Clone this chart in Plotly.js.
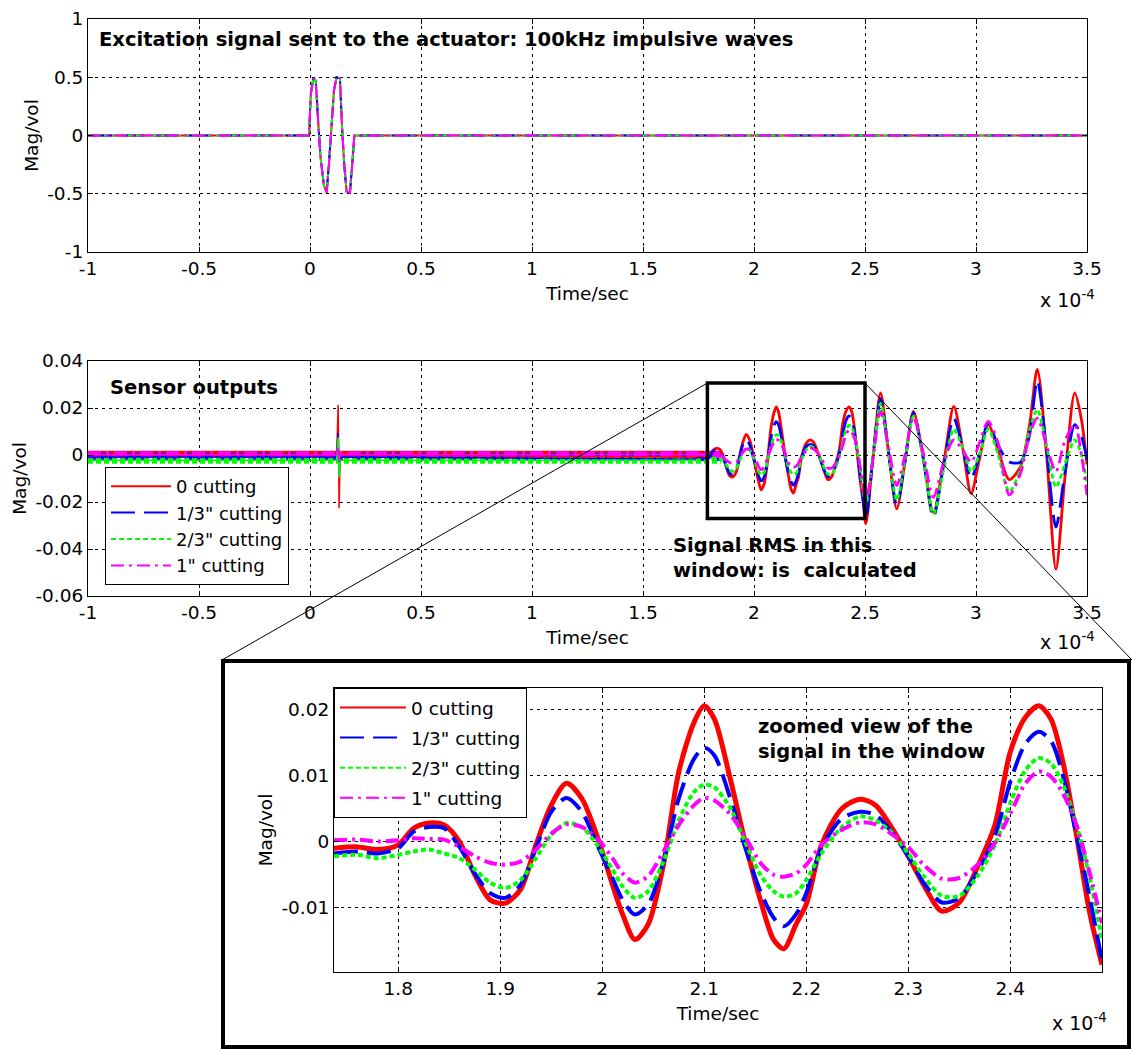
<!DOCTYPE html>
<html>
<head>
<meta charset="utf-8">
<script src="https://cdn.plot.ly/plotly-3.0.1.min.js"></script>
<style>
html,body{margin:0;padding:0;background:#ffffff;}
#chart{width:1132px;height:1049px;}
</style>
</head>
<body>
<div id="chart"></div>
<script>
// ---------------- DATA (time in units of 1e-4 s, magnitude in volts) ----------------
const seriesNames = ['0 cutting', '1/3" cutting', '2/3" cutting', '1" cutting'];

// Excitation burst (same for all four tests)
const excitationTime = [-1, -0.004, 0, 0.004, 0.015, 0.026, 0.0375, 0.048, 0.063, 0.075, 0.087, 0.0975, 0.108, 0.12, 0.135, 0.144, 0.1545, 0.165, 0.18, 0.192, 0.2, 3.5];
const excitationMag  = [0, 0, 0.2, 0.36, 0.49, 0.47, 0.1, -0.2, -0.43, -0.49, -0.2, 0.135, 0.39, 0.5, 0.49, 0.08, -0.26, -0.48, -0.49, -0.2, 0, 0];

// Sensor noise floor (level of the noisy band before the wave arrives)
const bandTime    = [-1, 1.85];
const bandRed     = [0.0003, 0.0003];
const bandBlue    = [-0.0008, -0.0008];
const bandGreen   = [-0.0022, -0.0022];
const bandMagenta = [0.0001, 0.0001];

// Early part with the cross-talk spike
const earlyTime    = [-1, 0.12, 0.127, 0.131, 0.136, 1.737];
const earlyRed     = [0.0, 0.0, 0.0213, -0.0226, 0.0, -0.001];
const earlyBlue    = [-0.0008, -0.0008, 0.0094, -0.008, -0.0008, -0.0018];
const earlyGreen   = [-0.0022, -0.0022, 0.0075, -0.0095, -0.0022, -0.0022];
const earlyMagenta = [0.0001, 0.0001, 0.003, -0.003, 0.0001, 0.0002];

// RMS window (also shown in the zoomed view)
const windowTime = [1.737, 1.76, 1.78, 1.80, 1.815, 1.83, 1.845, 1.86, 1.875, 1.89, 1.905, 1.92, 1.935, 1.95, 1.965, 1.98, 1.995, 2.01, 2.02, 2.032, 2.045, 2.06, 2.075, 2.09, 2.1, 2.11, 2.125, 2.14, 2.155, 2.168, 2.178, 2.19, 2.2, 2.215, 2.235, 2.253, 2.268, 2.285, 2.3, 2.315, 2.333, 2.35, 2.368, 2.385, 2.4, 2.415, 2.428, 2.44, 2.452, 2.465, 2.478, 2.49];
const windowRed = [-0.001, -0.0008, -0.0012, -0.0005, 0.002, 0.0028, 0.0025, 0.0, -0.005, -0.0088, -0.0093, -0.0072, -0.0005, 0.0055, 0.0088, 0.0065, 0.0008, -0.0065, -0.011, -0.0148, -0.0125, -0.0035, 0.0105, 0.018, 0.0205, 0.0185, 0.0098, 0.0, -0.0088, -0.0148, -0.0162, -0.0125, -0.0095, -0.0005, 0.005, 0.0064, 0.0055, 0.0018, -0.0022, -0.0065, -0.0105, -0.0092, -0.0038, 0.0025, 0.0135, 0.0188, 0.0205, 0.0185, 0.0118, 0.001, -0.0108, -0.0186];
const windowBlue = [-0.0018, -0.0015, -0.0018, -0.001, 0.0015, 0.0022, 0.002, -0.0008, -0.0048, -0.0078, -0.0085, -0.0065, -0.001, 0.0045, 0.0066, 0.0045, -0.0005, -0.0055, -0.0088, -0.011, -0.0095, -0.003, 0.0065, 0.0125, 0.0142, 0.013, 0.0068, -0.0008, -0.0075, -0.0115, -0.0128, -0.011, -0.0078, -0.001, 0.0035, 0.0045, 0.004, 0.0012, -0.0022, -0.0062, -0.0092, -0.0085, -0.0045, 0.0008, 0.009, 0.0148, 0.0166, 0.0152, 0.0098, 0.001, -0.0085, -0.018];
const windowGreen = [-0.0022, -0.002, -0.0025, -0.002, -0.0015, -0.0012, -0.0018, -0.0025, -0.0042, -0.0062, -0.007, -0.0058, -0.0025, 0.001, 0.0028, 0.0022, -0.0005, -0.0042, -0.0068, -0.0085, -0.0075, -0.003, 0.0032, 0.0075, 0.0086, 0.0082, 0.0052, 0.0, -0.005, -0.0075, -0.0083, -0.0078, -0.0058, -0.0018, 0.0022, 0.0038, 0.0032, 0.0012, -0.0018, -0.0052, -0.0082, -0.0082, -0.0052, -0.0005, 0.0058, 0.0108, 0.0126, 0.0118, 0.0085, 0.0025, -0.0055, -0.0148];
const windowMagenta = [0.0002, 0.0003, 0.0, 0.0002, 0.0005, 0.0004, 0.0003, -0.0008, -0.0022, -0.0032, -0.0035, -0.003, -0.0012, 0.0012, 0.0026, 0.0022, 0.0005, -0.0025, -0.0048, -0.0062, -0.0052, -0.0015, 0.0025, 0.0055, 0.0066, 0.0062, 0.0042, 0.0008, -0.0032, -0.005, -0.0053, -0.0048, -0.0035, -0.0005, 0.0018, 0.0029, 0.0026, 0.001, -0.0008, -0.0035, -0.0056, -0.0055, -0.0035, -0.0002, 0.0042, 0.0088, 0.0106, 0.0098, 0.0072, 0.0025, -0.0048, -0.0123];

// After the window
const lateTime    = [2.504, 2.537, 2.57, 2.605, 2.643, 2.68, 2.718, 2.76, 2.808, 2.855, 2.9, 2.94, 2.978, 3.015, 3.055, 3.1, 3.15, 3.2, 3.24, 3.276, 3.318, 3.36, 3.4, 3.445, 3.475, 3.5];
const lateRed     = [-0.0293, 0.0, 0.0264, 0.002, -0.0229, -0.003, 0.0186, 0.0, -0.0245, -0.003, 0.0207, 0.003, -0.0164, -0.002, 0.0129, 0.002, -0.0105, -0.005, 0.012, 0.0364, 0.0, -0.0486, -0.01, 0.0264, 0.015, -0.004];
const lateBlue    = [-0.027, 0.0, 0.024, 0.002, -0.0214, -0.003, 0.018, 0.0, -0.0264, -0.004, 0.0157, 0.003, -0.01, 0.0, 0.0136, 0.004, -0.003, -0.003, 0.008, 0.0317, 0.002, -0.0307, -0.008, 0.0129, 0.008, -0.002];
const lateGreen   = [-0.021, 0.0, 0.022, 0.002, -0.0193, -0.002, 0.0164, 0.0, -0.025, -0.006, 0.011, 0.003, -0.007, 0.0, 0.011, 0.0, -0.0157, -0.006, 0.01, 0.0193, 0.004, -0.0136, -0.004, 0.0064, 0.0, -0.012];
const lateMagenta = [-0.02, -0.001, 0.0186, 0.004, -0.013, 0.0, 0.016, 0.002, -0.018, -0.003, 0.0064, 0.002, -0.003, 0.005, 0.0143, 0.005, -0.017, -0.008, 0.008, 0.0157, 0.004, -0.0071, 0.006, 0.0129, 0.0, -0.0171];

// RMS window rectangle
const rmsWindowTime = [1.79, 2.5];
const rmsWindowMag  = [-0.027, 0.0306];

// Ticks
const timeTicks       = [-1, -0.5, 0, 0.5, 1, 1.5, 2, 2.5, 3, 3.5];
const timeTickLabels  = ['-1', '-0.5', '0', '0.5', '1', '1.5', '2', '2.5', '3', '3.5'];
const excTicks        = [-1, -0.5, 0, 0.5, 1];
const excTickLabels   = ['-1', '-0.5', '0', '0.5', '1'];
const sensTicks       = [-0.06, -0.04, -0.02, 0, 0.02, 0.04];
const sensTickLabels  = ['-0.06', '-0.04', '-0.02', '0', '0.02', '0.04'];
const zoomTimeTicks   = [1.8, 1.9, 2.0, 2.1, 2.2, 2.3, 2.4];
const zoomTimeLabels  = ['1.8', '1.9', '2', '2.1', '2.2', '2.3', '2.4'];
const zoomMagTicks    = [-0.01, 0, 0.01, 0.02];
const zoomMagLabels   = ['-0.01', '0', '0.01', '0.02'];

// ---------------- STYLE / LAYOUT ----------------
const W = 1132, H = 1049;
const FONT = '"DejaVu Sans", Verdana, sans-serif';
const colors = ['#ff0000', '#0000ff', '#00ff00', '#ff00ff'];
const dashes = ['solid', '24px,9px', '5px,3px', '13px,5px,3px,5px'];

// subplot boxes in pixels [left, right, top, bottom]
const boxTop = [88, 1087, 19, 252];
const boxMid = [88, 1087, 361, 596];
const boxZoom = [334, 1102, 688, 972];
const frame = [223, 1129, 661, 1047];

const px = v => v / W;
const py = v => 1 - v / H;

const band = [bandRed, bandBlue, bandGreen, bandMagenta];
const early = [earlyRed, earlyBlue, earlyGreen, earlyMagenta];
const win = [windowRed, windowBlue, windowGreen, windowMagenta];
const late = [lateRed, lateBlue, lateGreen, lateMagenta];
const bandWidths = [7, 8, 7, 7];
const idx = [0, 1, 2, 3];

const data = [];
// top: excitation
idx.forEach(i => {
  data.push({x: excitationTime, y: excitationMag, xaxis: 'x', yaxis: 'y', mode: 'lines',
    line: {color: colors[i], width: 2, dash: dashes[i]}, showlegend: false, hoverinfo: 'skip'});
});
// middle: noise band
idx.forEach(i => {
  data.push({x: bandTime, y: band[i], xaxis: 'x2', yaxis: 'y2', mode: 'lines',
    line: {color: colors[i], width: bandWidths[i], dash: dashes[i]}, showlegend: false, hoverinfo: 'skip'});
});
// middle: early + spike
idx.forEach(i => {
  data.push({x: earlyTime, y: early[i], xaxis: 'x2', yaxis: 'y2', mode: 'lines',
    line: {color: colors[i], width: 1.5}, showlegend: false, hoverinfo: 'skip'});
});
// middle: window + late waves
idx.forEach(i => {
  data.push({x: windowTime.concat(lateTime), y: win[i].concat(late[i]), xaxis: 'x2', yaxis: 'y2', mode: 'lines',
    line: {color: colors[i], width: 2.8, dash: dashes[i], shape: 'spline', smoothing: 0.8}, showlegend: false, hoverinfo: 'skip'});
});
// zoomed view
idx.forEach(i => {
  data.push({x: windowTime, y: win[i], xaxis: 'x3', yaxis: 'y3', mode: 'lines',
    line: {color: colors[i], width: i === 0 ? 5 : 4, dash: dashes[i], shape: 'spline', smoothing: 0.8}, showlegend: false, hoverinfo: 'skip'});
});
// legend entries
idx.forEach(i => {
  data.push({x: [null], y: [null], xaxis: 'x2', yaxis: 'y2', mode: 'lines', name: seriesNames[i],
    line: {color: colors[i], width: 2, dash: dashes[i]}, legend: 'legend', hoverinfo: 'skip'});
});
idx.forEach(i => {
  data.push({x: [null], y: [null], xaxis: 'x3', yaxis: 'y3', mode: 'lines', name: seriesNames[i],
    line: {color: colors[i], width: 2, dash: dashes[i]}, legend: 'legend2', legendgroup: 'z' + i, hoverinfo: 'skip'});
});

function axisBase() {
  return {showline: true, linecolor: '#000', linewidth: 1, mirror: 'ticks', ticks: 'inside', ticklen: 5,
    tickcolor: '#000', showgrid: true, gridcolor: '#000', gridwidth: 1, griddash: '3px,4px', zeroline: false,
    tickfont: {family: FONT, size: 18.5, color: '#000'}, tickmode: 'array', fixedrange: true};
}
function xAxis(box, range, vals, labels, anchor) {
  return Object.assign(axisBase(), {domain: [px(box[0]), px(box[1])], range: range, tickvals: vals, ticktext: labels,
    anchor: anchor, title: {text: 'Time/sec', font: {family: FONT, size: 18.5, color: '#000'}, standoff: 8}});
}
function yAxis(box, range, vals, labels, anchor) {
  return Object.assign(axisBase(), {domain: [py(box[3]), py(box[2])], range: range, tickvals: vals, ticktext: labels,
    anchor: anchor, title: {text: 'Mag/vol', font: {family: FONT, size: 18.5, color: '#000'}, standoff: 3}});
}

const midX = t => boxMid[0] + (t - (-1)) / 4.5 * (boxMid[1] - boxMid[0]);
const midY = v => boxMid[3] - (v - (-0.06)) / 0.1 * (boxMid[3] - boxMid[2]);

const bold = (t, x, y) => ({text: t, x: px(x), y: py(y), xref: 'paper', yref: 'paper', xanchor: 'left', yanchor: 'middle',
  align: 'left', showarrow: false, font: {family: FONT, size: 19.5, color: '#000', weight: 'bold'}});
const expo = (x, y) => ({text: 'x 10<sup>-4</sup>', x: px(x), y: py(y), xref: 'paper', yref: 'paper', xanchor: 'left', yanchor: 'middle',
  showarrow: false, font: {family: FONT, size: 19, color: '#000'}});

const layout = {
  width: W, height: H, margin: {l: 0, r: 0, t: 0, b: 0},
  paper_bgcolor: '#fff', plot_bgcolor: '#fff', hovermode: false,
  font: {family: FONT, color: '#000'},
  xaxis: xAxis(boxTop, [-1, 3.5], timeTicks, timeTickLabels, 'y'),
  yaxis: yAxis(boxTop, [-1, 1], excTicks, excTickLabels, 'x'),
  xaxis2: xAxis(boxMid, [-1, 3.5], timeTicks, timeTickLabels, 'y2'),
  yaxis2: yAxis(boxMid, [-0.06, 0.04], sensTicks, sensTickLabels, 'x2'),
  xaxis3: xAxis(boxZoom, [1.737, 2.49], zoomTimeTicks, zoomTimeLabels, 'y3'),
  yaxis3: yAxis(boxZoom, [-0.0197, 0.0232], zoomMagTicks, zoomMagLabels, 'x3'),
  legend: {x: px(105), y: py(467), xanchor: 'left', yanchor: 'top', bgcolor: '#fff', bordercolor: '#000', borderwidth: 1,
    font: {family: FONT, size: 18, color: '#000'}, itemwidth: 60, tracegroupgap: 0},
  legend2: {x: px(334), y: py(688), xanchor: 'left', yanchor: 'top', bgcolor: '#fff', bordercolor: '#000', borderwidth: 1,
    font: {family: FONT, size: 18.5, color: '#000'}, itemwidth: 66, tracegroupgap: 3, traceorder: 'grouped'},
  shapes: [
    {type: 'rect', xref: 'x2', yref: 'y2', x0: rmsWindowTime[0], x1: rmsWindowTime[1], y0: rmsWindowMag[0], y1: rmsWindowMag[1],
      line: {color: '#000', width: 3.5}},
    {type: 'rect', xref: 'paper', yref: 'paper', x0: px(frame[0]), x1: px(frame[1]), y0: py(frame[3]), y1: py(frame[2]),
      line: {color: '#000', width: 4}},
    {type: 'line', xref: 'paper', yref: 'paper', x0: px(midX(rmsWindowTime[0])), y0: py(midY(rmsWindowMag[1])),
      x1: px(frame[0] - 1), y1: py(frame[2] - 1), line: {color: '#000', width: 1}},
    {type: 'line', xref: 'paper', yref: 'paper', x0: px(midX(rmsWindowTime[1])), y0: py(midY(rmsWindowMag[1])),
      x1: px(frame[1] + 3), y1: py(frame[2] - 1), line: {color: '#000', width: 1}}
  ],
  annotations: [
    bold('Excitation signal sent to the actuator: 100kHz impulsive waves', 97, 40),
    bold('Sensor outputs', 108, 387),
    bold('Signal RMS in this<br>window: is\u00a0 calculated', 671, 558),
    bold('zoomed view of the<br>signal in the window', 756, 739),
    expo(1038, 299),
    expo(1038, 641),
    expo(1050, 1022)
  ]
};

Plotly.newPlot('chart', data, layout, {staticPlot: true, displayModeBar: false});
</script>
</body>
</html>
